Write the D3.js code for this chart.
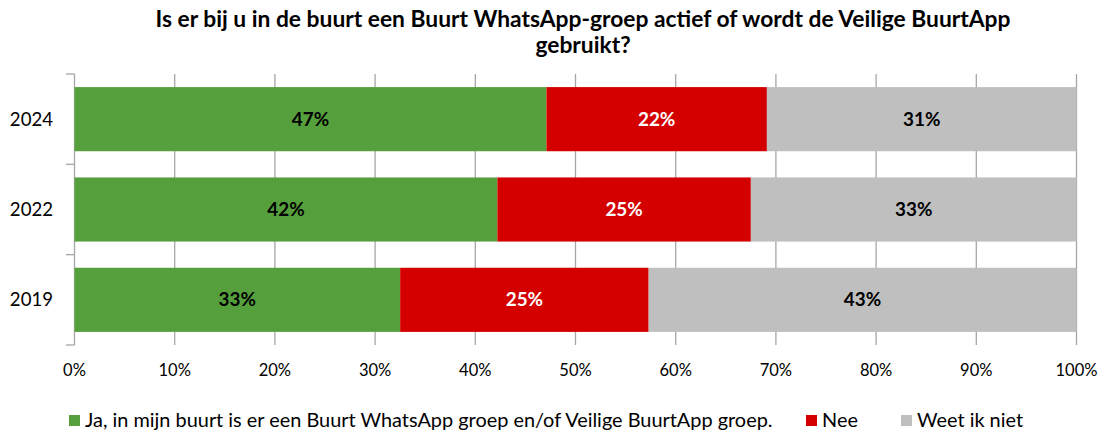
<!DOCTYPE html>
<html>
<head>
<meta charset="utf-8">
<script src="https://cdn.jsdelivr.net/npm/d3@7"></script>
<style>
  body { margin: 0; background: #fff; }
  text { font-family: Lato, "Open Sans", sans-serif; }
</style>
</head>
<body>
<script>
let width = 1105;
let height = 432;

// data
const years = ['2024', '2022', '2019'];
const seriesNames = ['Ja, in mijn buurt is er een Buurt WhatsApp groep en/of Veilige BuurtApp groep.', 'Nee', 'Weet ik niet'];
const ja = [47.1, 42.2, 32.5];
const nee = [22.0, 25.3, 24.8];
const weetNiet = [30.9, 32.5, 42.7];
const xTicks = [0, 10, 20, 30, 40, 50, 60, 70, 80, 90, 100];
const colors = ['#55a03c', '#d40000', '#bfbfbf'];
const labelColors = ['#000', '#fff', '#000'];

let rows = years.map((y, i) => ({ year: y, values: [ja[i], nee[i], weetNiet[i]] }));

let svg = d3.select('body').append('svg')
	.attr('width', width)
	.attr('height', height);

let x = d3.scaleLinear().domain([0, 100]).range([74.5, 1076.5]);
let y = d3.scaleBand().domain(years).range([74, 345]).paddingInner(0.29).paddingOuter(0.145);

// title
let title = svg.append('text')
	.attr('text-anchor', 'middle')
	.style('font-size', '22.8px')
	.style('font-weight', 'bold')
	.attr('fill', '#000');
title.append('tspan').attr('x', 583).attr('y', 27).text('Is er bij u in de buurt een Buurt WhatsApp-groep actief of wordt de Veilige BuurtApp');
title.append('tspan').attr('x', 583).attr('y', 53).text('gebruikt?');

// gridlines
svg.append('g').selectAll('line')
	.data(xTicks)
	.enter().append('line')
	.attr('x1', d => x(d)).attr('x2', d => x(d))
	.attr('y1', 74).attr('y2', 345)
	.style('stroke', '#a6a6a6')
	.style('stroke-width', 1.3);

// y axis tick marks at band edges
let edges = [74, 74 + y.step(), 74 + 2 * y.step(), 345];
svg.append('g').selectAll('line')
	.data(edges)
	.enter().append('line')
	.attr('x1', 66).attr('x2', x(0))
	.attr('y1', d => d).attr('y2', d => d)
	.style('stroke', '#a6a6a6')
	.style('stroke-width', 1.3);

// bars
for (let row of rows) {
	let start = 0;
	row.values.forEach((v, j) => {
		svg.append('rect')
			.attr('x', x(start))
			.attr('y', y(row.year))
			.attr('width', x(start + v) - x(start))
			.attr('height', y.bandwidth())
			.style('fill', colors[j]);
		svg.append('text')
			.attr('x', (x(start) + x(start + v)) / 2)
			.attr('y', y(row.year) + y.bandwidth() / 2)
			.attr('dy', '0.35em')
			.attr('text-anchor', 'middle')
			.style('font-size', '18.9px')
			.style('font-weight', 'bold')
			.attr('fill', labelColors[j])
			.text(Math.round(v) + '%');
		start += v;
	});
}

// year labels
svg.append('g').selectAll('text')
	.data(years)
	.enter().append('text')
	.attr('x', 53)
	.attr('y', d => y(d) + y.bandwidth() / 2)
	.attr('dy', '0.35em')
	.attr('text-anchor', 'end')
	.style('font-size', '18.6px')
	.attr('fill', '#000')
	.text(d => d);

// x tick labels
svg.append('g').selectAll('text')
	.data(xTicks)
	.enter().append('text')
	.attr('x', d => x(d))
	.attr('y', 370)
	.attr('dy', '0.35em')
	.attr('text-anchor', 'middle')
	.style('font-size', '16.5px')
	.attr('fill', '#000')
	.text(d => d + '%');

// legend
let legendX = [69, 806, 901];
seriesNames.forEach((name, j) => {
	svg.append('rect')
		.attr('x', legendX[j]).attr('y', 415)
		.attr('width', 11).attr('height', 11)
		.style('fill', colors[j]);
	svg.append('text')
		.attr('x', legendX[j] + 16)
		.attr('y', 420.5)
		.attr('dy', '0.35em')
		.style('font-size', '19.9px')
		.attr('fill', '#000')
		.text(name);
});
</script>
</body>
</html>
